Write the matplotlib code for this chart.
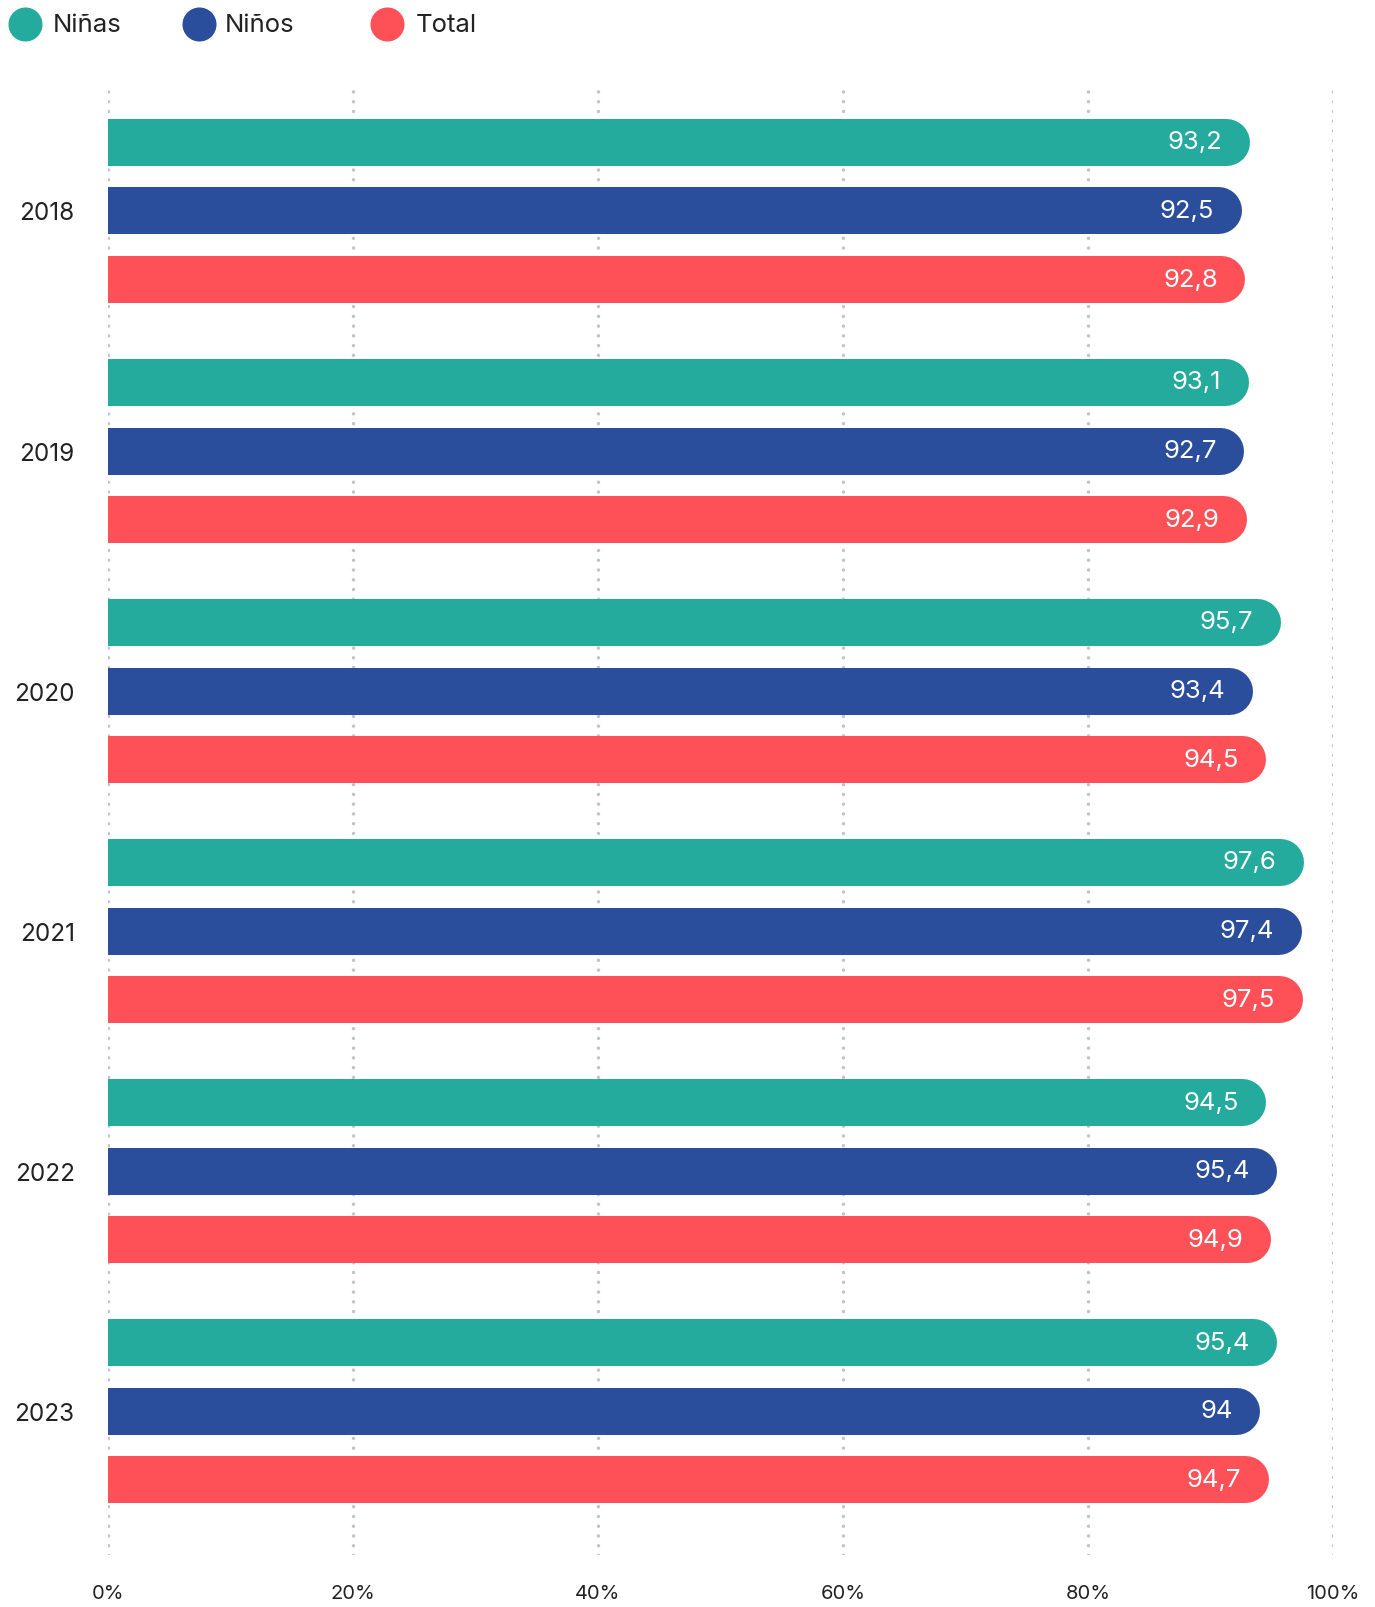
import matplotlib
matplotlib.use("Agg")
import matplotlib.pyplot as plt
from matplotlib.lines import Line2D

years = ["2018", "2019", "2020", "2021", "2022", "2023"]
ninas = [93.2, 93.1, 95.7, 97.6, 94.5, 95.4]
ninos = [92.5, 92.7, 93.4, 97.4, 95.4, 94.0]
total = [92.8, 92.9, 94.5, 97.5, 94.9, 94.7]
series_names = ["Niñas", "Niños", "Total"]
colors = ["#25ab9d", "#2a4d9c", "#fe5157"]
xticks = [0, 20, 40, 60, 80, 100]

plt.rcParams["font.family"] = ["Inter", "DejaVu Sans"]

W, H = 1375, 1608
fig = plt.figure(figsize=(W / 100, H / 100), dpi=100)
ax = fig.add_axes([108 / W, (H - 1556) / H, 1225 / W, (1556 - 90) / H])

pitch = 0.286        # distance between bars within a year (group = 1 unit)
bar_px = 47          # bar thickness in pixels
lw_pt = bar_px * 72 / 100
px_per_unit = 1225 / 100
r = (bar_px / 2) / px_per_unit  # radius of the rounded end in data units

for j, vals in enumerate([ninas, ninos, total]):
    for i, v in enumerate(vals):
        y = i + (j - 1) * pitch
        # line with round caps: the left cap is clipped by the axes at x=0
        ax.plot([-5, v - r], [y, y], color=colors[j], lw=lw_pt,
                solid_capstyle="round", zorder=3)
        lab = ("%g" % v).replace(".", ",")
        ax.text(v - 27 / px_per_unit, y, lab, color="white", fontsize=18.5,
                ha="right", va="center", zorder=4)

for x in xticks:
    ax.axvline(x, color="#c4c4c4", lw=2.5, linestyle=(0, (0.01, 2.8)),
               dash_capstyle="round", zorder=1)

ax.set_xlim(0, 100)
ax.set_ylim(5.601, -0.506)
ax.set_xticks(xticks)
ax.set_xticklabels([f"{x}%" for x in xticks])
ax.set_yticks(range(len(years)))
ax.set_yticklabels(years)
ax.tick_params(axis="both", length=0, colors="#222222")
ax.tick_params(axis="x", labelsize=14.5, pad=21)
ax.tick_params(axis="y", labelsize=17.5, pad=24)
for s in ax.spines.values():
    s.set_visible(False)

# legend at the top
leg_pos = [(25, 53), (199, 225), (387, 416)]
for (cx, tx), name, c in zip(leg_pos, series_names, colors):
    fig.add_artist(Line2D([cx / W], [1 - 25 / H], marker="o", markersize=23.5,
                          color=c, lw=0, transform=fig.transFigure))
    fig.text(tx / W, 1 - 25 / H, name, fontsize=18.5, color="#222222",
             ha="left", va="center")

fig.savefig("out.png", dpi=100)
